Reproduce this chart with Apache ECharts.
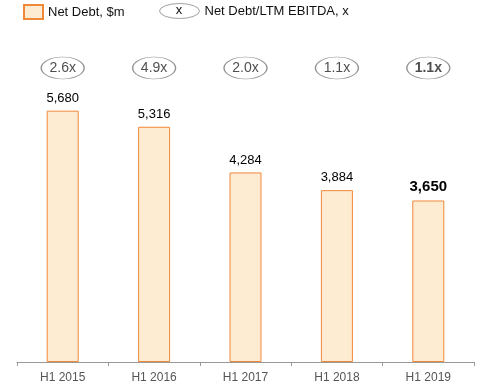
<!DOCTYPE html>
<html><head><meta charset="utf-8">
<script src="https://cdn.jsdelivr.net/npm/echarts@6/dist/echarts.min.js"></script>
<style>html,body{margin:0;padding:0;background:#fff}#c{width:499px;height:388px}</style>
</head><body><div id="c"></div>
<script>
const categories = ['H1 2015','H1 2016','H1 2017','H1 2018','H1 2019'];
const netDebt = [5680, 5316, 4284, 3884, 3650];
const leverage = ['2.6x','4.9x','2.0x','1.1x','1.1x'];
const FONT = 'Liberation Sans, Arial, Helvetica, sans-serif';
const chart = echarts.init(document.getElementById('c'));
const lastIdx = netDebt.length - 1;
chart.setOption({
  animation: false,
  textStyle: {fontFamily: FONT},
  legend: [{
    left: 23, top: 4, padding: 0, itemWidth: 19, itemHeight: 14,
    data: [{name: 'Net Debt, $m', icon: 'rect'}],
    textStyle: {fontFamily: FONT, fontSize: 13, color: '#111'}
  },{
    left: 159, top: 3, padding: 0, itemWidth: 40, itemHeight: 15,
    data: [{name: 'Net Debt/LTM EBITDA, x', icon: 'path://M0,7.5A20,7.5 0 1,0 40,7.5A20,7.5 0 1,0 0,7.5Z'}],
    itemStyle: {color: '#fff', borderColor: '#888', borderWidth: 1},
    textStyle: {fontFamily: FONT, fontSize: 13, color: '#111'}
  }],
  graphic: [{type: 'text', x: 179, y: 10.5, z: 100, style: {text: 'x', font: '13px ' + FONT, fill: '#111', align: 'center', verticalAlign: 'middle'}}],
  grid: {left: 17, right: 25, top: 8, height: 354},
  xAxis: {
    type: 'category', data: categories,
    axisLine: {lineStyle: {color: '#999'}},
    axisTick: {show: true, length: 4, lineStyle: {color: '#999'}},
    axisLabel: {color: '#555', fontSize: 12, margin: 10, fontFamily: FONT}
  },
  yAxis: [
    {type: 'value', min: 0, max: 8000, show: false, splitLine: {show: false}},
    {type: 'value', min: 0, max: 1, show: false, splitLine: {show: false}}
  ],
  series: [{
    name: 'Net Debt, $m', type: 'bar', barWidth: 32,
    itemStyle: {color: '#FDEBD2', borderColor: '#F0883A', borderWidth: 1},
    data: netDebt.map((v, i) => ({
      value: v,
      label: i === lastIdx ? {fontWeight: 'bold', fontSize: 15} : undefined
    })),
    label: {show: true, position: 'top', distance: 6, color: '#000', fontSize: 13, fontFamily: FONT,
      formatter: p => p.value.toLocaleString('en-US')}
  },{
    name: 'Net Debt/LTM EBITDA, x', type: 'scatter', yAxisIndex: 1,
    symbol: 'circle', symbolSize: [43, 22],
    itemStyle: {color: '#fff', borderColor: '#777', borderWidth: 1},
    data: leverage.map((t, i) => ({
      value: [categories[i], 0.8305], txt: t,
      label: i === lastIdx ? {fontWeight: 'bold'} : undefined
    })),
    label: {show: true, position: 'inside', color: '#222', fontSize: 14, fontFamily: FONT,
      formatter: p => p.data.txt}
  }]
});
</script></body></html>
